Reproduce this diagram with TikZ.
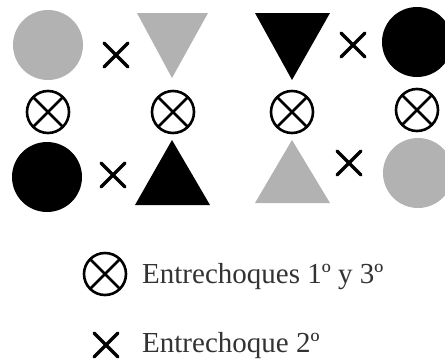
\documentclass[tikz,border=0pt]{standalone}
\usepackage{fontspec}
\setmainfont{Liberation Serif}
\usetikzlibrary{calc}
\definecolor{lgray}{RGB}{178,178,178}
\begin{document}
\begin{tikzpicture}[x=1pt,y=-1pt,
  ball/.style={circle,inner sep=0pt,minimum size=70pt},
  crossmark/.style={line width=3.2pt,line cap=round},
  otimesring/.style={line width=2.6pt},
  legendtext/.style={anchor=base west,inner sep=0pt,font=\fontsize{29}{33}\selectfont,text=black!80}]
\useasboundingbox (0,0) rectangle (445,360);
\clip (0,0) rectangle (445,360);
% big circles
\node[ball,fill=lgray] (c1) at (48,45) {};
\node[ball,fill=black] (c2) at (417,42) {};
\node[ball,fill=black] (c3) at (47,177) {};
\node[ball,fill=lgray] (c4) at (418,173) {};
% triangles
\fill[lgray] (137,13) -- (208,13) -- (172,78) -- cycle;
\fill[black] (255,13) -- (330,13) -- (292,80) -- cycle;
\fill[black] (135,205) -- (210,205) -- (172,140) -- cycle;
\fill[lgray] (255,203) -- (330,203) -- (292,140) -- cycle;
% crosses
\foreach \n/\cx/\cy in {x1/116/55, x2/353/45, x3/113/175, x4/349/163, x5/106/345}{
  \coordinate (\n) at (\cx,\cy);
  \draw[crossmark] ($(\n)+(-12,-12)$) -- ($(\n)+(12,12)$);
  \draw[crossmark] ($(\n)+(-12,12)$) -- ($(\n)+(12,-12)$);
}
% circled crosses
\foreach \n/\cx/\cy in {o1/48/112, o2/173/112, o3/292/112, o4/417/110, o5/105/274}{
  \coordinate (\n) at (\cx,\cy);
  \draw[otimesring] (\n) circle[radius=21];
  \draw[otimesring] ($(\n)+(-14.5,-14.5)$) -- ($(\n)+(14.5,14.5)$);
  \draw[otimesring] ($(\n)+(-14.5,14.5)$) -- ($(\n)+(14.5,-14.5)$);
}
% legend
\node[legendtext] (t1) at (142,283) {Entrechoques 1º y 3º};
\node[legendtext] (t2) at (142,352) {Entrechoque 2º};
\end{tikzpicture}
\end{document}
